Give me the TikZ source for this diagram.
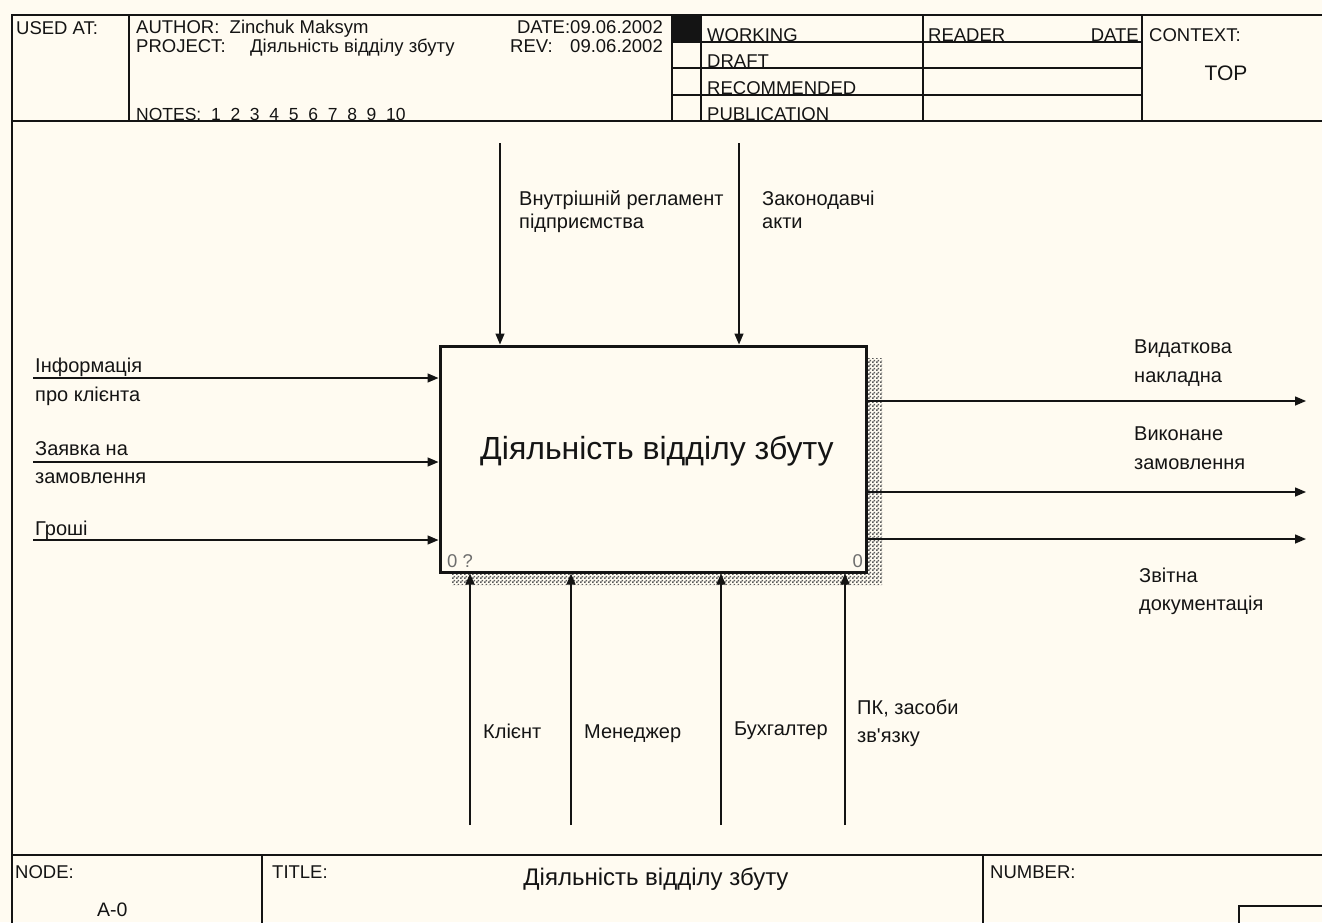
\documentclass[tikz,border=0pt]{standalone}
\usepackage{fontspec}
\setmainfont{Liberation Sans}
\usetikzlibrary{arrows.meta,patterns}
\definecolor{bg}{RGB}{255,251,241}
\definecolor{ink}{RGB}{20,20,20}
\definecolor{dim}{RGB}{110,110,110}
\newcommand\fsz[1]{\fontsize{#1}{#1}\selectfont}
\pgfdeclarepatternformonly{dither}{\pgfpointorigin}{\pgfpoint{4pt}{4pt}}{\pgfpoint{4pt}{4pt}}{%
  \pgfpathrectangle{\pgfpointorigin}{\pgfpoint{2pt}{2pt}}%
  \pgfpathrectangle{\pgfpoint{2pt}{2pt}}{\pgfpoint{2pt}{2pt}}%
  \pgfusepath{fill}}
\begin{document}
\begin{tikzpicture}[x=1pt,y=-1pt,
  txt/.style={inner sep=0pt, anchor=base west, text=ink, font=\fsz{18.5}},
  lab/.style={txt, font=\fsz{20}},
  rtxt/.style={txt, anchor=base east},
  ctxt/.style={txt, anchor=base},
  frame/.style={line width=1.4pt, draw=ink},
  flow/.style={line width=1.4pt, draw=ink, -{Triangle[length=11pt,width=9pt]}},
  fn/.style={draw=ink, line width=3pt, fill=bg, minimum width=426pt, minimum height=226pt, inner sep=0pt},
  shade/.style={pattern=dither, pattern color=black!65},
]
\useasboundingbox (0,0) rectangle (1322,922);
\fill[bg] (0,0) rectangle (1322,922);

% ---------- frame ----------
\draw[frame] (1330,15) -- (12,15) -- (12,930);
\draw[frame] (12,121) -- (1330,121);
\draw[frame] (129,15) -- (129,121);
\draw[frame] (672,15) -- (672,121);
\draw[frame] (701,15) -- (701,121);
\draw[frame] (923,15) -- (923,121);
\draw[frame] (1142,15) -- (1142,121);
\foreach \yy in {42,68,95} \draw[frame] (672,\yy) -- (1142,\yy);
\fill[ink] (672,15) rectangle (701,42);

% header texts
\node[txt] (usedat) at (16,34) {USED AT:};
\node[txt] (author) at (136,33) {AUTHOR:~~Zinchuk Maksym};
\node[txt] (project) at (136,52) {PROJECT:};
\node[txt] (projectv) at (250,52) {Діяльність відділу збуту};
\node[txt, font=\fsz{17.5}] (notes) at (136,120) {NOTES:~~1~~2~~3~~4~~5~~6~~7~~8~~9~~10};
\node[rtxt] (date) at (663,33) {DATE:09.06.2002};
\node[txt] (rev) at (510,52) {REV:};
\node[rtxt] (revv) at (663,52) {09.06.2002};
\node[txt] (working) at (707,41) {WORKING};
\node[txt] (draft) at (707,67) {DRAFT};
\node[txt] (recom) at (707,94) {RECOMMENDED};
\node[txt] (publ) at (707,120) {PUBLICATION};
\node[txt] (reader) at (928,41) {READER};
\node[rtxt] (rdate) at (1139,41) {DATE};
\node[txt] (context) at (1149,41) {CONTEXT:};
\node[ctxt, font=\fsz{21}] (top) at (1226,80) {TOP};

% ---------- footer ----------
\draw[frame] (12,855) -- (1330,855);
\draw[frame] (262,855) -- (262,930);
\draw[frame] (983,855) -- (983,930);
\draw[frame] (1239,906) rectangle (1330,930);
\node[txt] (nodel) at (15,878) {NODE:};
\node[txt, font=\fsz{19.5}] (nodev) at (97,916) {A-0};
\node[txt] (titlel) at (272,878) {TITLE:};
\node[ctxt, font=\fsz{24}] (titlev) at (656,885) {Діяльність відділу збуту};
\node[txt] (numberl) at (990,878) {NUMBER:};

% ---------- activity box ----------
\fill[shade] (866,358) -- (882,358) -- (882,585) -- (452,585) -- (452,572) -- (866,572) -- cycle;
\node[fn] (A0) at (653,459) {};
\node[ctxt, font=\fsz{32}] (A0t) at (657,459) {Діяльність відділу збуту};
\node[txt, text=dim] (A0n) at (447,567) {0 ?};
\node[rtxt, text=dim] (A0c) at (863,567) {0};

% ---------- inputs ----------
\coordinate (i1) at (33,378);
\coordinate (i2) at (33,462);
\coordinate (i3) at (33,540);
\foreach \c in {i1,i2,i3} \draw[flow] (\c) -- (\c -| A0.west);
\node[lab] (li1a) at (35,372) {Інформація};
\node[lab] (li1b) at (35,401) {про клієнта};
\node[lab] (li2a) at (35,455) {Заявка на};
\node[lab] (li2b) at (35,483) {замовлення};
\node[lab] (li3a) at (35,535) {Гроші};

% ---------- outputs ----------
\coordinate (o1) at (1306,401);
\coordinate (o2) at (1306,492);
\coordinate (o3) at (1306,539);
\foreach \c in {o1,o2,o3} \draw[flow] (\c -| A0.east) -- (\c);
\node[lab] (lo1a) at (1134,353) {Видаткова};
\node[lab] (lo1b) at (1134,382) {накладна};
\node[lab] (lo2a) at (1134,440) {Виконане};
\node[lab] (lo2b) at (1134,469) {замовлення};
\node[lab] (lo3a) at (1139,582) {Звітна};
\node[lab] (lo3b) at (1139,610) {документація};

% ---------- controls ----------
\coordinate (c1) at (500,143);
\coordinate (c2) at (739,143);
\foreach \c in {c1,c2} \draw[flow] (\c) -- (\c |- A0.north);
\node[lab] (lc1a) at (519,205) {Внутрішній регламент};
\node[lab] (lc1b) at (519,228) {підприємства};
\node[lab] (lc2a) at (762,205) {Законодавчі};
\node[lab] (lc2b) at (762,228) {акти};

% ---------- mechanisms ----------
\coordinate (m1) at (470,825);
\coordinate (m2) at (571,825);
\coordinate (m3) at (721,825);
\coordinate (m4) at (845,825);
\foreach \c in {m1,m2,m3,m4} \draw[flow] (\c) -- (\c |- A0.south);
\node[lab] (lm1) at (483,738) {Клієнт};
\node[lab] (lm2) at (584,738) {Менеджер};
\node[lab] (lm3) at (734,735) {Бухгалтер};
\node[lab] (lm4a) at (857,714) {ПК, засоби};
\node[lab] (lm4b) at (857,742) {зв\textquotesingle язку};
\end{tikzpicture}
\end{document}
